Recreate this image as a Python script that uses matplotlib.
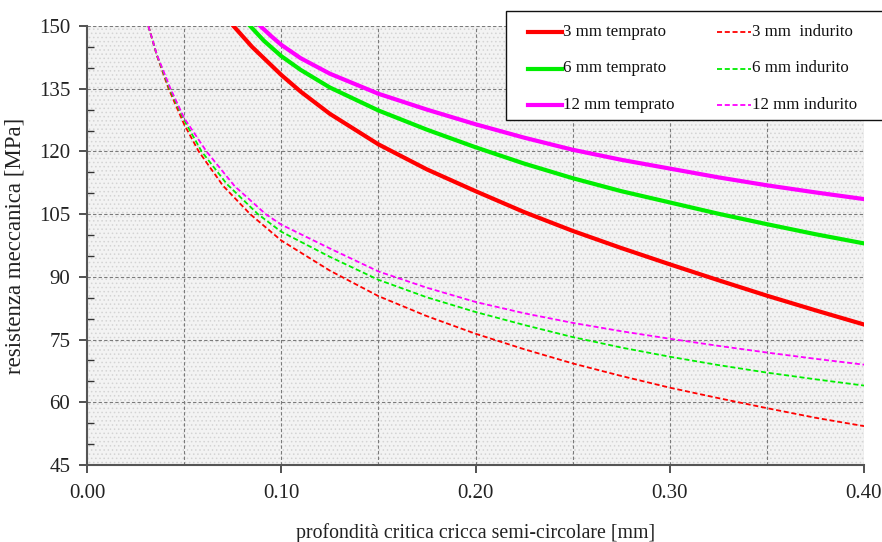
import matplotlib
matplotlib.use("Agg")
import matplotlib.pyplot as plt
from matplotlib.ticker import MultipleLocator, FormatStrFormatter
from matplotlib.patches import Rectangle
from matplotlib.lines import Line2D

# ---- data ----
x_red_t = [0.0754, 0.085, 0.100, 0.110, 0.125, 0.150, 0.175, 0.200, 0.225, 0.250, 0.275, 0.300, 0.325, 0.350, 0.375, 0.400]
y_red_t = [150.0, 145.0, 138.3, 134.3, 129.0, 121.7, 115.7, 110.5, 105.5, 101.0, 96.9, 93.0, 89.2, 85.5, 82.0, 78.6]

x_grn_t = [0.084, 0.091, 0.100, 0.110, 0.125, 0.150, 0.175, 0.200, 0.225, 0.250, 0.275, 0.300, 0.325, 0.350, 0.375, 0.400]
y_grn_t = [150.0, 146.5, 142.8, 139.5, 135.3, 129.8, 125.2, 121.0, 117.1, 113.6, 110.5, 107.8, 105.1, 102.6, 100.2, 98.0]

x_mag_t = [0.0892, 0.095, 0.100, 0.110, 0.125, 0.150, 0.175, 0.200, 0.225, 0.250, 0.275, 0.300, 0.325, 0.350, 0.375, 0.400]
y_mag_t = [150.0, 147.5, 145.5, 142.3, 138.6, 133.8, 130.0, 126.5, 123.3, 120.4, 118.0, 115.9, 113.8, 111.9, 110.2, 108.6]

x_red_i = [0.0316, 0.036, 0.042, 0.050, 0.0575, 0.070, 0.084, 0.100, 0.125, 0.150, 0.175, 0.200, 0.225, 0.250, 0.275, 0.300, 0.325, 0.350, 0.375, 0.400]
y_red_i = [150.0, 142.9, 135.0, 126.5, 120.0, 111.8, 105.0, 98.7, 91.5, 85.4, 80.6, 76.4, 72.7, 69.3, 66.3, 63.5, 61.0, 58.6, 56.3, 54.3]

x_grn_i = [0.0316, 0.036, 0.0425, 0.050, 0.059, 0.072, 0.088, 0.100, 0.125, 0.150, 0.175, 0.200, 0.225, 0.250, 0.275, 0.300, 0.325, 0.350, 0.375, 0.400]
y_grn_i = [150.0, 143.0, 135.0, 127.5, 120.0, 112.2, 105.0, 100.8, 94.8, 89.3, 85.1, 81.6, 78.5, 75.6, 73.1, 70.9, 68.9, 67.1, 65.5, 64.0]

x_mag_i = [0.0316, 0.036, 0.043, 0.050, 0.0615, 0.076, 0.092, 0.100, 0.125, 0.150, 0.175, 0.200, 0.225, 0.250, 0.275, 0.300, 0.325, 0.350, 0.375, 0.400]
y_mag_i = [150.0, 143.1, 135.0, 128.0, 120.0, 111.7, 105.0, 102.5, 96.8, 91.3, 87.4, 84.0, 81.3, 79.0, 77.0, 75.2, 73.5, 71.9, 70.4, 69.0]

labels_t = ["3 mm temprato", "6 mm temprato", "12 mm temprato"]
labels_i = ["3 mm  indurito", "6 mm indurito", "12 mm indurito"]
colors = ["#ff0000", "#00ee00", "#ff00ff"]

xlabel = "profondità critica cricca semi-circolare [mm]"
ylabel = "resistenza meccanica [MPa]"

W, H = 882, 542
SOLID_LW = 3.0
DASH_LW = 1.3
DASH = (0, (2.8, 1.5))

# ---- figure ----
plt.rcParams['font.family'] = ['Liberation Serif', 'DejaVu Serif']
plt.rcParams['hatch.linewidth'] = 0.6
fig = plt.figure(figsize=(W / 100, H / 100), dpi=100)
ax = fig.add_axes([87 / W, 1 - 465 / H, (864 - 87) / W, (465 - 26) / H])

ax.set_xlim(0, 0.40)
ax.set_ylim(45, 150)

# background: light dotted texture
ax.set_facecolor("#f3f3f3")
ax.add_patch(Rectangle((0, 0), 1, 1, transform=ax.transAxes, facecolor="none",
                       edgecolor="#d4d4d4", hatch="....", linewidth=0, zorder=0))

# ticks & grid
ax.xaxis.set_major_locator(MultipleLocator(0.10))
ax.xaxis.set_minor_locator(MultipleLocator(0.05))
ax.yaxis.set_major_locator(MultipleLocator(15))
ax.yaxis.set_minor_locator(MultipleLocator(5))
ax.xaxis.set_major_formatter(FormatStrFormatter("%.2f"))
ax.grid(True, which="major", axis="both", color="#7a7a7a", linestyle=(0, (3, 2)), linewidth=0.8, zorder=1)
ax.grid(True, which="minor", axis="x", color="#7a7a7a", linestyle=(0, (3, 2)), linewidth=0.8, zorder=1)
ax.set_axisbelow(True)

for s in ["top", "right"]:
    ax.spines[s].set_visible(False)
for s in ["left", "bottom"]:
    ax.spines[s].set_color("#555555")
    ax.spines[s].set_linewidth(1.5)

ax.tick_params(axis="x", which="major", direction="out", length=6, width=1.2, colors="#333333",
               labelsize=15, pad=8, labelcolor="#222222")
ax.tick_params(axis="x", which="minor", length=0)
ax.tick_params(axis="y", which="major", direction="out", length=6, width=1.2, colors="#333333",
               labelsize=15, pad=6, labelcolor="#222222")
ax.tick_params(axis="y", which="minor", direction="in", length=5, width=1.0, colors="#333333")

# curves
ax.plot(x_red_t, y_red_t, color=colors[0], lw=SOLID_LW, zorder=5)
ax.plot(x_grn_t, y_grn_t, color=colors[1], lw=SOLID_LW, zorder=5)
ax.plot(x_mag_t, y_mag_t, color=colors[2], lw=SOLID_LW, zorder=5)
ax.plot(x_red_i, y_red_i, color=colors[0], lw=DASH_LW, linestyle=DASH, zorder=4)
ax.plot(x_grn_i, y_grn_i, color=colors[1], lw=DASH_LW, linestyle=DASH, zorder=4)
ax.plot(x_mag_i, y_mag_i, color=colors[2], lw=DASH_LW, linestyle=DASH, zorder=4)

ax.set_xlabel(xlabel, fontsize=14.3, labelpad=14, color="#222222")
ax.set_ylabel(ylabel, fontsize=16.5, color="#222222")
ax.yaxis.set_label_coords(-61 / (864 - 87), 0.5)

# ---- legend (drawn in figure pixel coordinates) ----
def fx(px):
    return px / W

def fy(py):
    return 1 - py / H

fig.patches.append(Rectangle((fx(506), fy(120)), fx(940) - fx(506), fy(11) - fy(120),
                             transform=fig.transFigure, facecolor="white",
                             edgecolor="#111111", linewidth=1.0, zorder=10))
rows = [31.5, 68.5, 105.0]
for i, (c, lt, li) in enumerate(zip(colors, labels_t, labels_i)):
    yy = fy(rows[i])
    fig.add_artist(Line2D([fx(528), fx(562)], [yy, yy], transform=fig.transFigure,
                          color=c, lw=SOLID_LW, zorder=11))
    fig.text(fx(563), yy, lt, fontsize=12.2, va="center", ha="left", color="#111111", zorder=12)
    fig.add_artist(Line2D([fx(717), fx(751)], [yy, yy], transform=fig.transFigure,
                          color=c, lw=DASH_LW, linestyle=DASH, zorder=11))
    fig.text(fx(752), yy, li, fontsize=12.2, va="center", ha="left", color="#111111", zorder=12)

fig.savefig("out.png", dpi=100)
